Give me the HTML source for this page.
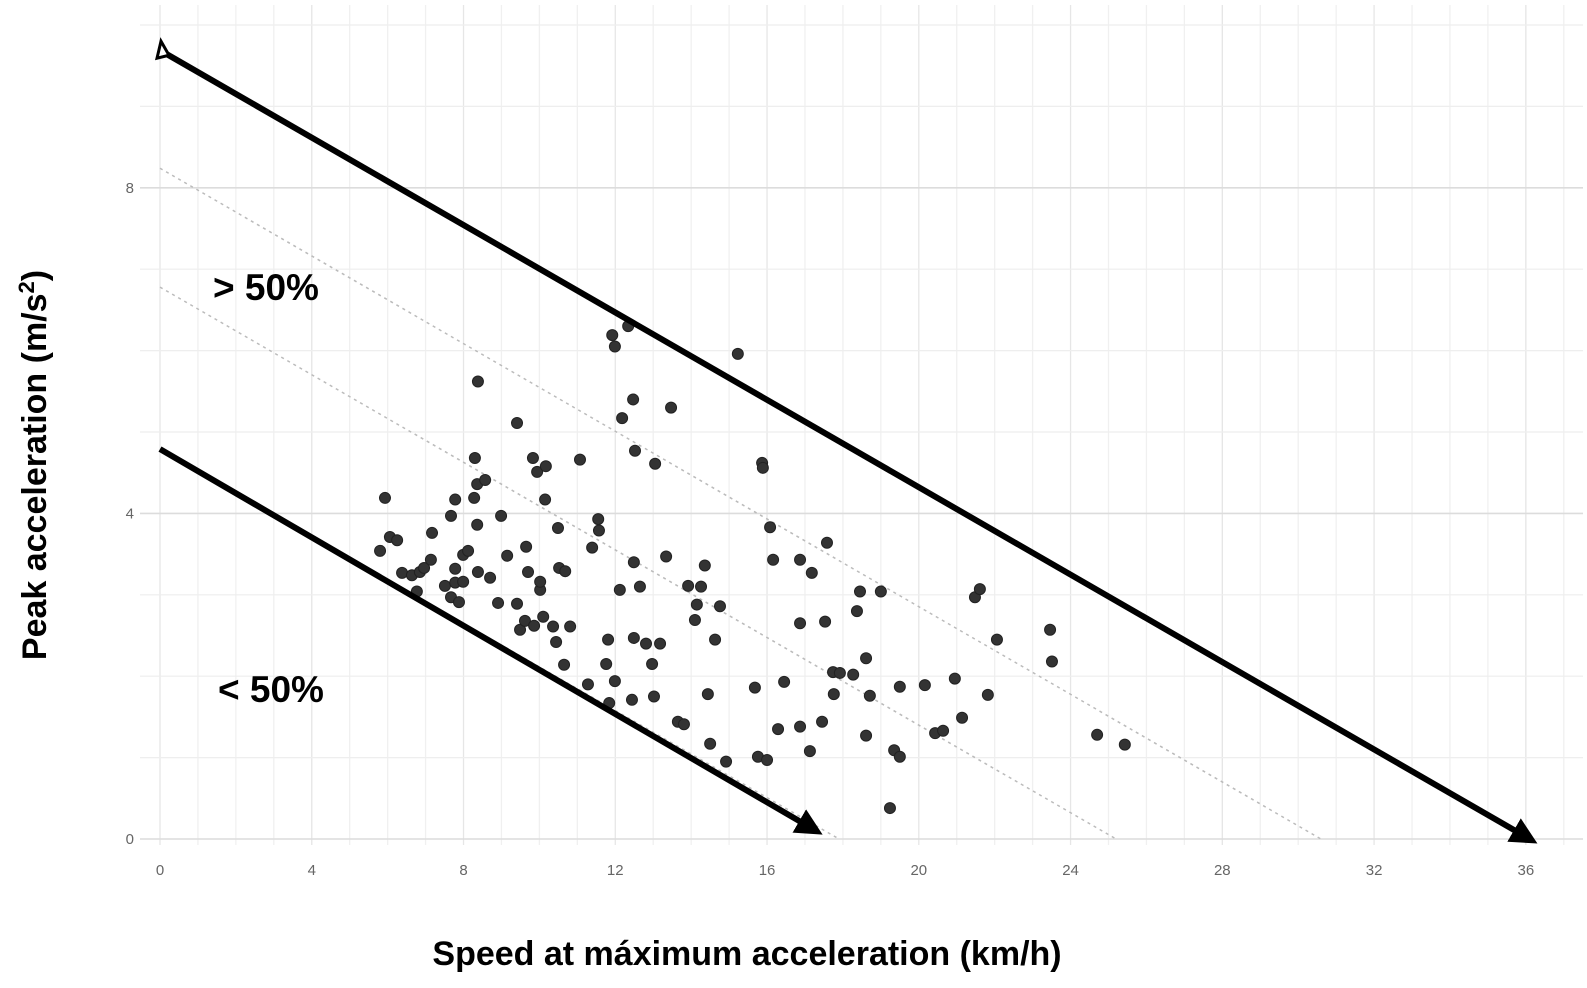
<!DOCTYPE html>
<html><head><meta charset="utf-8"><style>
html,body{margin:0;padding:0;background:#fff;width:1587px;height:988px;overflow:hidden;}
svg{display:block;position:absolute;left:0;top:0;}
</style></head><body>
<svg id="chart" width="1587" height="988" viewBox="0 0 1587 988" xmlns="http://www.w3.org/2000/svg">
<defs>
<marker id="ah" markerWidth="4.5" markerHeight="4.5" refX="3" refY="2.25" orient="auto" markerUnits="strokeWidth"><path d="M0,0 L4.5,2.25 L0,4.5 Z" fill="#000"/></marker>
</defs>
<g id="grid"></g>
<g id="guides"></g>
<g id="points"></g>
<g id="arrows"></g>
<g id="ticks"></g>
<text x="213" y="300" font-family="Liberation Sans, sans-serif" font-weight="bold" font-size="37" fill="#000">&gt; 50%</text>
<text x="218" y="702" font-family="Liberation Sans, sans-serif" font-weight="bold" font-size="37" fill="#000">&lt; 50%</text>
<text transform="translate(46,465) rotate(-90)" text-anchor="middle" font-family="Liberation Sans, sans-serif" font-weight="bold" font-size="34" fill="#000">Peak acceleration (m/s<tspan dy="-12" font-size="22">2</tspan><tspan dy="12">)</tspan></text>
<text x="747" y="965" text-anchor="middle" font-family="Liberation Sans, sans-serif" font-weight="bold" font-size="34" fill="#000">Speed at máximum acceleration (km/h)</text>
</svg>
<script>
const xTicks=[0,4,8,12,16,20,24,28,32,36];
const yTicks=[0,4,8];
const speed=[5.93,5.80,6.06,6.25,6.38,6.64,6.77,6.85,6.96,7.14,7.17,7.51,7.67,7.67,7.78,7.78,7.88,7.78,7.99,7.99,8.12,8.28,8.30,8.36,8.36,8.38,8.38,8.57,8.70,8.91,8.99,9.15,9.41,9.41,9.49,9.62,9.65,9.70,9.83,9.86,9.94,10.02,10.02,10.10,10.15,10.17,10.36,10.44,10.49,10.52,10.65,10.68,10.81,11.07,11.28,11.39,11.55,11.57,11.76,11.81,11.84,11.92,11.99,11.99,12.12,12.18,12.34,12.44,12.47,12.49,12.49,12.52,12.65,12.81,12.97,13.05,13.02,13.18,13.34,13.47,13.65,13.81,13.92,14.10,14.15,14.26,14.36,14.44,14.50,14.63,14.76,14.92,15.23,15.68,15.76,15.87,15.89,16.00,16.08,16.16,16.29,16.45,16.87,16.87,16.87,17.13,17.18,17.45,17.53,17.58,17.74,17.76,17.92,18.27,18.37,18.45,18.61,18.61,18.71,19.00,19.24,19.35,19.50,19.50,20.16,20.43,20.64,20.95,21.14,21.48,21.61,21.82,22.06,23.46,23.51,24.70,25.43];
const accel=[4.19,3.54,3.71,3.67,3.27,3.24,3.04,3.28,3.33,3.43,3.76,3.11,2.97,3.97,4.17,3.32,2.91,3.15,3.49,3.16,3.54,4.19,4.68,3.86,4.36,3.28,5.62,4.41,3.21,2.90,3.97,3.48,5.11,2.89,2.57,2.68,3.59,3.28,4.68,2.62,4.51,3.06,3.16,2.73,4.17,4.58,2.61,2.42,3.82,3.33,2.14,3.29,2.61,4.66,1.90,3.58,3.93,3.79,2.15,2.45,1.67,6.19,6.05,1.94,3.06,5.17,6.30,1.71,5.40,3.40,2.47,4.77,3.10,2.40,2.15,4.61,1.75,2.40,3.47,5.30,1.44,1.41,3.11,2.69,2.88,3.10,3.36,1.78,1.17,2.45,2.86,0.95,5.96,1.86,1.01,4.62,4.56,0.97,3.83,3.43,1.35,1.93,3.43,2.65,1.38,1.08,3.27,1.44,2.67,3.64,2.05,1.78,2.04,2.02,2.80,3.04,2.22,1.27,1.76,3.04,0.38,1.09,1.01,1.87,1.89,1.30,1.33,1.97,1.49,2.97,3.07,1.77,2.45,2.57,2.18,1.28,1.16];
const guideStartY=[8.24,6.78,4.79];
const guideEndX=[30.6,25.2,17.9];
const arrowStartY=[9.69,4.79];
const arrowEndX=[36.1,17.26];
const arrowEndY=[0,0.11];

const X=v=>160+v*37.94;
const Y=v=>839-v*81.4;
const NS="http://www.w3.org/2000/svg";
function mk(tag,attrs,parent){const e=document.createElementNS(NS,tag);for(const k in attrs)e.setAttribute(k,attrs[k]);parent.appendChild(e);return e;}
const grid=document.getElementById('grid');
for(let i=0;i<=37;i++){
  const l=mk('line',{x1:X(i),x2:X(i),y1:5,y2:845,stroke:i%4===0?'#e6e6e6':'#f0f0f0','stroke-width':1.3},grid);
  
  
}
for(let j=0;j<=10;j++){
  const l=mk('line',{x1:140,x2:1583,y1:Y(j),y2:Y(j),stroke:j%4===0?'#dcdcdc':'#eeeeee','stroke-width':j%4===0?1.6:1.2},grid);
  
  
}
const guides=document.getElementById('guides');
for(let i=0;i<guideStartY.length;i++){
  const l=mk('line',{x1:X(0),y1:Y(guideStartY[i]),x2:X(guideEndX[i]),y2:Y(0),stroke:'#bbb','stroke-width':1.5,'stroke-dasharray':'3,4'},guides);
  
  
}
const pts=document.getElementById('points');
for(let i=0;i<speed.length;i++){
  const c=mk('circle',{cx:X(speed[i]),cy:Y(accel[i]),r:5.5,fill:'#333',stroke:'#222','stroke-width':1},pts);
  
  
}
const arrows=document.getElementById('arrows');
for(let i=0;i<arrowStartY.length;i++){
  const l=mk('line',{x1:X(0),y1:Y(arrowStartY[i]),x2:X(arrowEndX[i]),y2:Y(arrowEndY[i]),stroke:'#000','stroke-width':6,'marker-end':'url(#ah)'},arrows);
  
  
}
const tri=mk('path',{d:`M${X(0)-3},${Y(arrowStartY[0])+8} L${X(0)+1},${Y(arrowStartY[0])-9} L${X(0)+9},${Y(arrowStartY[0])+5} Z`,fill:'#fff',stroke:'#000','stroke-width':3},arrows);


const ticks=document.getElementById('ticks');
xTicks.forEach(v=>{
  const t=mk('text',{x:X(v),y:875,'text-anchor':'middle','font-family':'Liberation Sans, sans-serif','font-size':15,fill:'#666'},ticks);
  t.textContent=v;
  
  
});
yTicks.forEach(v=>{
  const t=mk('text',{x:134,y:Y(v)+5,'text-anchor':'end','font-family':'Liberation Sans, sans-serif','font-size':15,fill:'#666'},ticks);
  t.textContent=v;
  
  
});
</script>
</body></html>
